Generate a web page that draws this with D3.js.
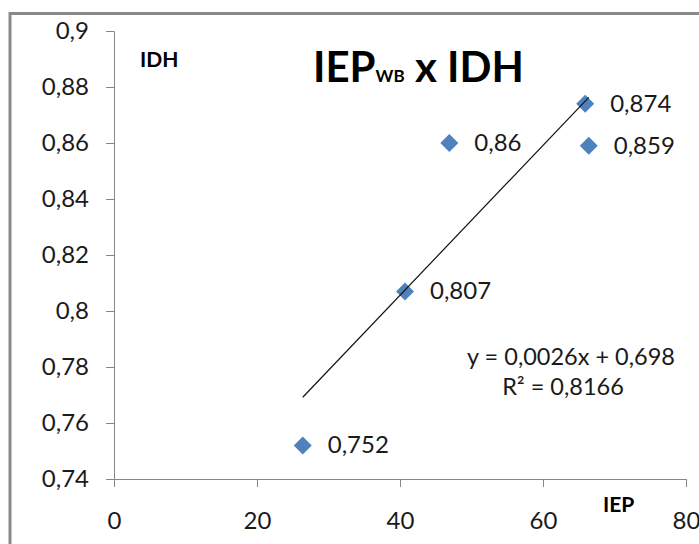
<!DOCTYPE html>
<html>
<head>
<meta charset="utf-8">
<script src="https://cdn.jsdelivr.net/npm/d3@7.9.0/dist/d3.min.js"></script>
<style>
  body { margin: 0; background: #fff; }
  svg { display: block; font-family: Lato, "Open Sans", sans-serif; }
</style>
</head>
<body>
<div id="chart"></div>
<script>
const iep = [26.4, 40.7, 46.9, 65.9, 66.4];
const idh = [0.752, 0.807, 0.86, 0.874, 0.859];
const pointLabels = ['0,752', '0,807', '0,86', '0,874', '0,859'];
const xTicks = [0, 20, 40, 60, 80];
const yTicks = [0.74, 0.76, 0.78, 0.8, 0.82, 0.84, 0.86, 0.88, 0.9];
const equationLines = ['y = 0,0026x + 0,698', 'R² = 0,8166'];

const width = 699;
const height = 544;

const svg = d3.select('#chart')
  .append('svg')
  .attr('width', width)
  .attr('height', height);

// outer frame (only top and left visible)
svg.append('rect')
  .attr('x', 10)
  .attr('y', 13.5)
  .attr('width', 720)
  .attr('height', 600)
  .attr('fill', 'none')
  .attr('stroke', '#8a8a8a')
  .attr('stroke-width', 3);

const xScale = d3.scaleLinear().domain([0, 80]).range([114, 686]);
const yScale = d3.scaleLinear().domain([0.74, 0.9]).range([479, 31]);

const fmtY = (d) => String(+d.toFixed(2)).replace('.', ',');

const yAxis = svg.append('g')
  .attr('transform', 'translate(114,0)')
  .call(d3.axisLeft(yScale).tickValues(yTicks).tickFormat(fmtY).tickSize(8).tickPadding(17));

const xAxis = svg.append('g')
  .attr('transform', 'translate(0,479)')
  .call(d3.axisBottom(xScale).tickValues(xTicks).tickSize(8).tickPadding(25));

[xAxis, yAxis].forEach((g) => {
  g.select('.domain').attr('stroke', '#868686');
  g.selectAll('.tick line').attr('stroke', '#868686');
  g.selectAll('.tick text')
    .attr('fill', '#1a1a1a')
    .style('font-size', '24px')
    .style('font-family', 'Lato, sans-serif');
});
yAxis.selectAll('.tick text').attr('dy', '0.33em');

// trendline: least squares through the points
const mx = d3.mean(iep);
const my = d3.mean(idh);
const slope = d3.sum(iep, (x, i) => (x - mx) * (idh[i] - my)) / d3.sum(iep, (x) => (x - mx) ** 2);
const intercept = my - slope * mx;
const [x0, x1] = d3.extent(iep);

const points = iep.map((x, i) => ({ x, y: idh[i], label: pointLabels[i] }));

svg.append('g')
  .selectAll('path')
  .data(points)
  .join('path')
  .attr('transform', (d) => `translate(${xScale(d.x)},${yScale(d.y)})`)
  .attr('d', 'M0,-9L9,0L0,9L-9,0Z')
  .attr('fill', '#4f81bd');

svg.append('line')
  .attr('x1', xScale(x0))
  .attr('y1', yScale(intercept + slope * x0))
  .attr('x2', xScale(x1))
  .attr('y2', yScale(intercept + slope * x1))
  .attr('stroke', '#111')
  .attr('stroke-width', 1.2);

svg.append('g')
  .selectAll('text')
  .data(points)
  .join('text')
  .attr('x', (d) => xScale(d.x) + 25)
  .attr('y', (d) => yScale(d.y) + 8)
  .attr('fill', '#1a1a1a')
  .style('font-size', '24px')
  .text((d) => d.label);

// equation
svg.append('g')
  .selectAll('text')
  .data(equationLines)
  .join('text')
  .attr('x', (d, i) => (i === 0 ? 571 : 563))
  .attr('y', (d, i) => 365 + i * 30)
  .attr('text-anchor', 'middle')
  .attr('fill', '#1a1a1a')
  .style('font-size', '23.5px')
  .text((d) => d);

// title
const title = svg.append('text')
  .attr('x', 313)
  .attr('y', 82)
  .attr('fill', '#000')
  .style('font-weight', 'bold')
  .style('font-size', '42px');
title.append('tspan').text('IEP');
title.append('tspan').style('font-size', '17px').text('WB');
title.append('tspan').text(' x IDH');

// axis titles
svg.append('text')
  .attr('x', 140)
  .attr('y', 67)
  .style('font-weight', 'bold')
  .style('font-size', '21px')
  .text('IDH');

svg.append('text')
  .attr('x', 603)
  .attr('y', 512)
  .style('font-weight', 'bold')
  .style('font-size', '21px')
  .text('IEP');
</script>
</body>
</html>
